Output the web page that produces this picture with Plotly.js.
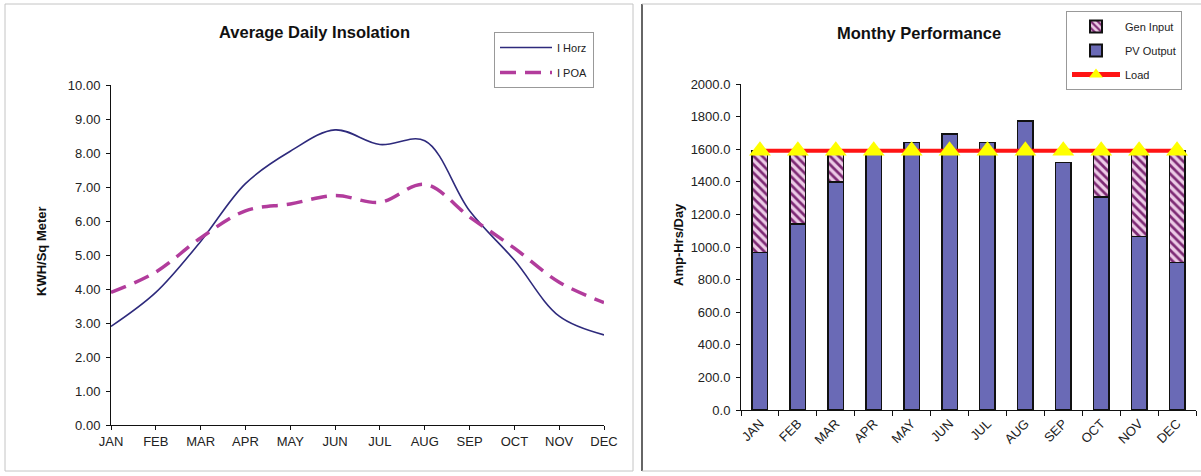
<!DOCTYPE html>
<html>
<head>
<meta charset="utf-8">
<script src="https://cdn.plot.ly/plotly-3.0.1.min.js"></script>
<style>html,body{margin:0;padding:0;background:#fff;}#chart{width:1201px;height:476px;}</style>
</head>
<body>
<div id="chart"></div>
<script>
// ---- data ----
const months = ['JAN','FEB','MAR','APR','MAY','JUN','JUL','AUG','SEP','OCT','NOV','DEC'];
const iHorz = [2.9, 3.9, 5.4, 7.1, 8.05, 8.68, 8.25, 8.36, 6.3, 4.85, 3.2, 2.65];
const iPoa  = [3.9, 4.5, 5.5, 6.3, 6.5, 6.75, 6.55, 7.08, 6.12, 5.2, 4.2, 3.6];
const pvOutput = [965, 1140, 1400, 1585, 1640, 1693, 1640, 1773, 1517, 1308, 1065, 905];
const genInput = [625, 450, 190, 0, 0, 0, 0, 0, 0, 290, 525, 685];
const load = [1590, 1590, 1590, 1590, 1590, 1590, 1590, 1590, 1590, 1590, 1590, 1590];

const W = 1201, H = 476;
const px = x => x / W;
const py = y => 1 - y / H;
const FONT = 'Liberation Sans, Arial, sans-serif';

const traces = [
  {x: months, y: iHorz, name: 'I Horz', type: 'scatter', mode: 'lines',
   line: {color: '#2e2a7c', width: 1.6, shape: 'spline', smoothing: 1},
   xaxis: 'x', yaxis: 'y', legend: 'legend', legendgroup: 'a'},
  {x: months, y: iPoa, name: 'I POA', type: 'scatter', mode: 'lines',
   line: {color: '#b23c9c', width: 3.5, dash: '16px,9px', shape: 'spline', smoothing: 1},
   xaxis: 'x', yaxis: 'y', legend: 'legend', legendgroup: 'b'},
  {x: months, y: pvOutput, name: 'PV Output', type: 'bar', width: 0.41,
   marker: {color: '#6a6ab6', line: {color: '#111', width: 1.5}},
   xaxis: 'x2', yaxis: 'y2', legend: 'legend2', legendgroup: 'd', legendrank: 2},
  {x: months, y: genInput, name: 'Gen Input', type: 'bar', width: 0.41,
   marker: {color: '#eccbe6', line: {color: '#111', width: 1.5},
            pattern: {shape: '\\', fgcolor: '#7d2a74', bgcolor: '#eccbe6', size: 6, solidity: 0.45}},
   xaxis: 'x2', yaxis: 'y2', legend: 'legend2', legendgroup: 'c', legendrank: 1},
  {x: months, y: load, name: 'Load', type: 'scatter', mode: 'lines+markers',
   line: {color: '#ff1414', width: 4},
   marker: {symbol: 'triangle-up', size: 19, color: '#ffff00', line: {width: 0}},
   xaxis: 'x2', yaxis: 'y2', legend: 'legend2', legendgroup: 'e', legendrank: 3}
];

const axisCommon = {
  showline: true, linecolor: '#111', linewidth: 1, showgrid: false, zeroline: false,
  ticks: 'outside', ticklen: 4, tickcolor: '#111',
  tickfont: {family: FONT, size: 13, color: '#222'}
};

const ann = (text, x, y, size, angle) => ({
  text: text, x: px(x), y: py(y), xref: 'paper', yref: 'paper',
  xanchor: 'center', yanchor: 'middle', showarrow: false, textangle: angle || 0,
  font: {family: FONT, size: size, color: '#111'}
});

const layout = {
  width: W, height: H,
  margin: {l: 0, r: 0, t: 0, b: 0},
  paper_bgcolor: '#ffffff', plot_bgcolor: '#ffffff',
  font: {family: FONT, color: '#222'},
  barmode: 'stack',
  showlegend: true,
  xaxis: Object.assign({}, axisCommon, {
    domain: [px(111), px(604)], anchor: 'y', type: 'category', range: [0, 11]
  }),
  yaxis: Object.assign({}, axisCommon, {
    domain: [py(425), py(85)], anchor: 'x', range: [0, 10], dtick: 1, tickformat: '.2f',
    ticklabelstandoff: 3
  }),
  xaxis2: Object.assign({}, axisCommon, {
    domain: [px(741), px(1196)], anchor: 'y2', type: 'category', range: [-0.5, 11.5],
    tickangle: -45, tickson: 'boundaries', ticklen: 5
  }),
  yaxis2: Object.assign({}, axisCommon, {
    domain: [py(410), py(84)], anchor: 'x2', range: [0, 2000], dtick: 200, tickformat: '.1f',
    ticklabelstandoff: 3
  }),
  legend: {
    x: px(494), y: py(32), xanchor: 'left', yanchor: 'top',
    bgcolor: '#ffffff', bordercolor: '#999', borderwidth: 1,
    font: {family: FONT, size: 11, color: '#222'},
    itemwidth: 52, tracegroupgap: 6, traceorder: 'grouped'
  },
  legend2: {
    x: px(1066), y: py(11), xanchor: 'left', yanchor: 'top',
    bgcolor: '#ffffff', bordercolor: '#999', borderwidth: 1,
    font: {family: FONT, size: 11, color: '#222'},
    itemwidth: 48, tracegroupgap: 5, traceorder: 'grouped', itemsizing: 'constant'
  },
  annotations: [
    ann('<b>Average Daily Insolation</b>', 314, 32, 16.5),
    ann('<b>Monthy Performance</b>', 919, 33, 16.5),
    ann('<b>KWH/Sq Meter</b>', 41, 251, 13, -90),
    ann('<b>Amp-Hrs/Day</b>', 679, 245, 13, -90)
  ],
  shapes: [
    {type: 'rect', xref: 'paper', yref: 'paper', x0: px(5), x1: px(633), y0: py(471), y1: py(4),
     line: {color: '#c4c4c4', width: 1}},
    {type: 'line', xref: 'paper', yref: 'paper', x0: px(642), x1: px(642), y0: py(471), y1: py(4),
     line: {color: '#333', width: 1.5}},
    {type: 'line', xref: 'paper', yref: 'paper', x0: px(642), x1: 1, y0: py(4), y1: py(4),
     line: {color: '#c4c4c4', width: 1}},
    {type: 'line', xref: 'paper', yref: 'paper', x0: px(642), x1: 1, y0: py(471), y1: py(471),
     line: {color: '#c4c4c4', width: 1}}
  ]
};

Plotly.newPlot('chart', traces, layout, {staticPlot: true, displayModeBar: false});
</script>
</body>
</html>
